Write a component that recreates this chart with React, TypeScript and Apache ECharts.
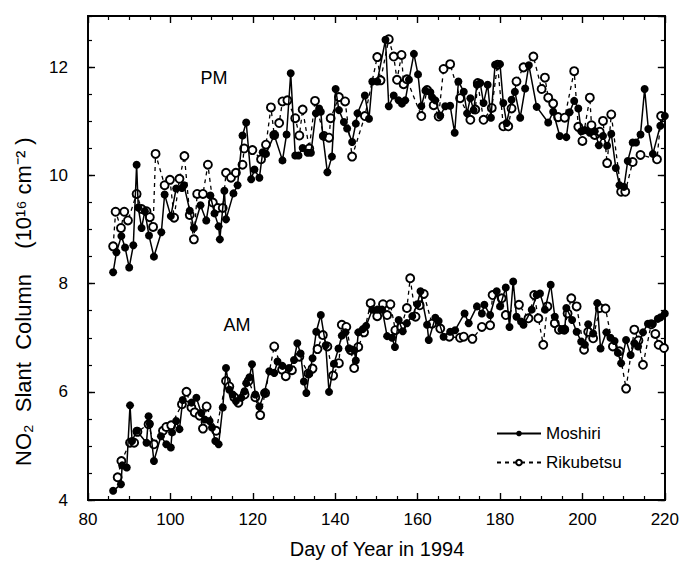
import React, { useEffect, useRef } from "react";
import * as echarts from "echarts";

// Day of year, NO2 slant column (1e16 cm^-2)
const moshiriPM: [number, number][] = [
  [86.1, 8.21], [86.9, 8.58], [88.1, 8.88], [89.0, 8.67], [90.0, 8.3], [91.0, 8.71], [91.8, 10.2], [92.2, 9.41],
  [93.0, 9.03], [93.8, 9.34], [94.8, 8.89], [96.0, 8.5], [97.8, 8.95], [98.6, 9.65], [100.1, 9.25], [101.4, 9.76],
  [102.8, 9.77], [103.3, 9.82], [104.7, 9.35], [105.7, 9.03], [107.3, 9.45], [108.7, 9.17], [109.7, 9.63], [110.7, 9.3],
  [111.7, 9.06], [112.0, 8.82], [113.1, 9.72], [113.5, 9.19], [115.3, 9.67], [116.3, 9.82], [117.5, 10.74], [118.4, 10.98],
  [119.6, 9.93], [120.4, 10.11], [121.6, 9.96], [122.4, 10.43], [123.2, 10.4], [125.2, 10.75], [127.2, 10.28], [128.2, 10.76],
  [129.2, 11.89], [130.3, 10.37], [131.1, 10.37], [132.1, 10.51], [133.3, 10.42], [134.1, 10.42], [135.3, 11.15], [136.1, 11.24],
  [136.5, 11.18], [137.0, 10.73], [138.1, 10.06], [139.2, 10.35], [140.1, 11.6], [140.9, 11.21], [142.1, 10.99], [142.9, 10.87],
  [144.1, 10.62], [145.0, 10.96], [145.4, 11.15], [147.2, 11.48], [148.2, 11.05], [149.0, 11.74], [150.2, 11.74], [152.2, 12.51],
  [153.0, 11.28], [154.2, 11.48], [155.4, 11.39], [156.2, 11.33], [157.0, 11.39], [157.9, 11.77], [159.1, 12.25], [160.1, 11.87],
  [160.9, 11.28], [161.9, 11.57], [163.1, 11.54], [163.5, 11.45], [164.3, 11.39], [165.5, 11.11], [166.7, 11.28], [167.9, 11.29],
  [169.0, 10.79], [169.9, 11.74], [171.2, 11.55], [172.0, 11.15], [172.8, 11.43], [173.6, 11.21], [174.4, 11.68], [175.2, 11.71],
  [176.0, 11.34], [177.0, 11.68], [177.8, 11.07], [178.8, 12.05], [180.0, 12.06], [180.8, 11.34], [181.6, 10.97], [182.8, 11.4],
  [183.6, 11.55], [184.9, 11.07], [186.1, 11.61], [187.0, 12.04], [188.9, 11.27], [191.7, 10.98], [192.9, 11.18], [194.5, 10.73],
  [196.1, 10.71], [196.9, 11.17], [198.0, 11.38], [199.0, 11.24], [199.7, 10.82], [200.6, 10.84], [201.8, 10.79], [203.0, 10.82],
  [204.0, 10.56], [205.0, 10.73], [206.0, 10.55], [207.0, 10.77], [208.1, 10.14], [209.0, 9.82], [210.1, 9.79], [211.0, 10.27],
  [212.2, 10.61], [213.0, 10.61], [214.1, 10.76], [215.1, 11.6], [216.0, 10.86], [217.1, 10.4], [218.9, 10.92], [220.0, 11.1],
];

const rikubetsuPM: [number, number][] = [
  [86.1, 8.69], [86.7, 9.33], [88.0, 9.03], [88.8, 9.33], [89.7, 9.17], [91.8, 9.66], [93.0, 9.38], [94.2, 9.34],
  [95.0, 9.23], [95.8, 9.05], [96.4, 10.4], [98.6, 9.82], [99.9, 9.92], [100.9, 9.22], [102.2, 9.94], [103.4, 10.36],
  [104.7, 9.27], [105.7, 8.82], [106.5, 9.66], [107.9, 9.66], [109.1, 10.2], [110.3, 9.5], [111.5, 9.4], [112.7, 9.4],
  [113.5, 10.05], [114.7, 9.96], [115.9, 10.05], [117.5, 10.2], [117.9, 10.5], [119.9, 10.47], [122.0, 10.3], [123.2, 10.57],
  [124.4, 11.26], [125.2, 10.75], [126.4, 10.97], [127.2, 11.37], [128.4, 11.39], [130.3, 11.06], [131.3, 10.74], [132.1, 11.22],
  [133.7, 10.5], [135.1, 11.38], [137.3, 10.73], [138.5, 10.7], [138.9, 11.06], [140.9, 11.45], [142.4, 11.37], [144.1, 10.35],
  [147.2, 11.1], [150.2, 12.19], [151.0, 11.76], [153.0, 12.52], [154.2, 12.2], [155.0, 11.77], [156.1, 12.23], [156.6, 11.69],
  [157.4, 11.78], [160.9, 11.1], [162.3, 11.58], [163.9, 11.3], [165.1, 11.09], [166.3, 11.97], [167.9, 12.06], [170.3, 11.43],
  [172.8, 11.03], [174.0, 11.22], [174.6, 11.71], [176.0, 11.03], [178.0, 11.25], [179.4, 12.05], [180.8, 10.91], [182.0, 10.91],
  [182.8, 11.24], [184.0, 11.74], [185.7, 12.0], [188.1, 12.2], [190.1, 11.6], [190.9, 11.81], [191.7, 11.44], [192.9, 11.33],
  [194.1, 11.08], [195.7, 11.07], [198.0, 11.93], [199.0, 10.9], [200.0, 10.64], [201.8, 11.44], [202.2, 10.93], [203.0, 10.75],
  [204.2, 10.81], [205.0, 11.01], [206.0, 10.23], [207.0, 11.13], [209.4, 9.7], [210.4, 9.7], [212.2, 10.25], [214.1, 10.38],
  [218.1, 10.3], [219.1, 11.1],
];

const moshiriAM: [number, number][] = [
  [86.1, 4.17], [88.0, 4.29], [88.3, 4.64], [89.4, 4.6], [90.2, 5.75], [90.7, 5.09], [91.8, 5.28], [94.2, 5.06],
  [94.7, 5.55], [95.0, 5.41], [96.0, 4.72], [97.7, 5.18], [99.0, 5.03], [100.1, 4.97], [100.4, 5.25], [101.4, 5.46],
  [102.2, 5.31], [103.0, 5.85], [105.1, 5.8], [106.3, 5.89], [107.5, 5.61], [108.3, 5.49], [109.5, 5.46], [110.1, 5.34],
  [110.9, 5.09], [111.7, 5.03], [112.7, 5.71], [113.5, 6.44], [114.3, 6.04], [115.1, 5.95], [115.9, 5.83], [117.2, 5.89],
  [118.0, 6.01], [118.4, 6.16], [119.2, 6.27], [119.8, 6.51], [120.6, 5.95], [121.6, 5.73], [122.8, 5.98], [124.0, 6.38],
  [125.2, 6.35], [126.0, 6.56], [127.2, 6.48], [128.8, 6.44], [130.0, 6.59], [130.8, 6.9], [131.6, 6.71], [132.4, 6.19],
  [133.0, 5.98], [133.7, 6.34], [134.5, 6.62], [135.4, 7.11], [136.5, 7.42], [137.7, 6.86], [138.5, 6.0], [139.7, 6.52],
  [140.8, 6.8], [141.6, 7.04], [142.5, 7.1], [143.3, 6.8], [144.6, 6.77], [145.0, 6.58], [145.6, 7.1], [146.7, 7.16],
  [147.5, 7.22], [149.0, 7.52], [150.2, 7.52], [151.4, 7.52], [152.6, 7.03], [153.8, 7.0], [154.5, 6.83], [155.4, 7.33],
  [156.4, 7.12], [157.4, 7.27], [158.7, 7.4], [159.9, 7.62], [160.7, 7.86], [162.3, 7.24], [162.7, 6.96], [164.3, 7.37],
  [165.1, 7.31], [166.3, 7.02], [167.9, 7.11], [169.1, 7.14], [171.4, 7.45], [172.4, 7.27], [174.4, 7.58], [175.6, 7.45],
  [176.2, 7.61], [177.6, 7.42], [179.2, 7.86], [180.0, 7.58], [181.4, 7.93], [182.3, 7.2], [183.2, 8.04], [184.0, 7.39],
  [185.1, 7.3], [185.7, 7.24], [187.7, 7.52], [188.9, 7.79], [189.7, 7.82], [190.9, 7.52], [192.3, 7.98], [193.3, 7.39],
  [194.9, 7.15], [195.7, 7.15], [196.1, 7.55], [197.5, 7.33], [198.6, 7.11], [199.7, 6.93], [200.6, 6.87], [201.4, 7.25],
  [202.6, 7.08], [203.6, 7.64], [204.4, 6.8], [205.8, 7.1], [206.8, 7.0], [207.8, 6.94], [208.6, 6.72], [209.4, 6.53],
  [210.6, 6.96], [211.7, 6.68], [212.6, 6.9], [213.5, 6.84], [214.7, 7.1], [215.9, 7.26], [217.1, 7.26], [218.3, 7.35],
  [219.0, 7.38], [220.0, 7.45],
];

const rikubetsuAM: [number, number][] = [
  [87.2, 4.42], [88.1, 4.72], [90.2, 5.06], [91.2, 5.06], [92.0, 5.26], [94.7, 5.4], [96.0, 5.03], [98.2, 5.28],
  [99.0, 5.35], [100.2, 5.38], [102.8, 5.77], [103.9, 6.0], [105.1, 5.71], [105.9, 5.62], [107.1, 5.56], [107.9, 5.32],
  [108.8, 5.73], [111.1, 5.28], [113.5, 6.2], [114.3, 6.1], [115.5, 5.9], [116.5, 5.8], [118.0, 5.95], [119.0, 6.2],
  [120.6, 5.9], [121.8, 5.57], [123.0, 5.98], [125.2, 6.84], [127.1, 6.41], [128.0, 6.29], [129.5, 6.4], [131.3, 6.65],
  [133.5, 6.34], [134.5, 6.43], [135.7, 6.79], [137.0, 7.05], [138.1, 6.84], [139.5, 6.3], [140.9, 6.53], [141.6, 7.24],
  [142.7, 7.2], [143.8, 6.77], [144.6, 6.44], [145.6, 6.83], [147.0, 7.1], [148.6, 7.64], [150.2, 7.4], [151.6, 7.62],
  [152.6, 7.42], [153.4, 7.62], [154.6, 7.14], [156.0, 7.2], [157.4, 7.55], [158.2, 8.1], [159.5, 7.39], [160.5, 7.6],
  [161.5, 7.81], [163.5, 7.26], [165.5, 7.17], [167.7, 7.02], [170.3, 7.0], [171.2, 7.02], [173.3, 6.98], [175.6, 7.2],
  [177.6, 7.23], [178.2, 7.79], [180.4, 7.73], [181.4, 7.42], [184.6, 7.61], [186.9, 7.36], [188.3, 7.79], [189.3, 7.36],
  [190.5, 6.87], [191.5, 7.58], [193.3, 7.27], [194.3, 7.15], [195.6, 7.15], [196.4, 7.45], [197.3, 7.73], [198.6, 7.58],
  [200.4, 6.78], [201.4, 7.11], [202.6, 6.99], [204.2, 7.55], [205.6, 7.54], [207.4, 6.84], [209.0, 6.75], [210.6, 6.06],
  [212.6, 7.15], [213.6, 6.95], [214.7, 6.5], [216.7, 7.25], [217.7, 7.07], [218.5, 6.87], [219.8, 6.81],
];

const xRange = { min: 80, max: 220, major: 20, minorSplit: 4 };
const yRange = { min: 4, max: 12.95, major: 2, minor: 0.5 };
const seriesNames = ["Moshiri", "Rikubetsu"];
const panelLabels = ["PM", "AM"];
const xTitle = "Day of Year in 1994";
const yTitleMain = "NO\u2082  Slant  Column";
const yTitleUnit = "(10\u00b9\u2076 cm\u207b\u00b2 )";

const FONT = "'Liberation Sans', Arial, Helvetica, sans-serif";

export default function App() {
  const ref = useRef<HTMLDivElement>(null);
  useEffect(() => {
    if (!ref.current) return;
    const chart = echarts.init(ref.current, undefined, { renderer: "svg" });
    const line = { show: true, onZero: false, lineStyle: { color: "#000", width: 1.8 } };
    const majorTick = { show: true, inside: true, length: 7, lineStyle: { color: "#000", width: 1.4 } };
    const minorTickY = { show: true, inside: true, length: 4, lineStyle: { color: "#000", width: 1.2 } };
    const yBase = (position: string, interval: number, tick: any, labels: boolean) => ({
      type: "value",
      position,
      min: yRange.min,
      max: yRange.max,
      interval,
      axisLine: line,
      axisTick: tick,
      splitLine: { show: false },
      axisLabel: labels
        ? { show: true, showMaxLabel: false, color: "#000", fontSize: 17, fontFamily: FONT, margin: 20 }
        : { show: false },
    });
    const xBase = (position: string, labels: boolean) => ({
      type: "value",
      position,
      min: xRange.min,
      max: xRange.max,
      interval: xRange.major,
      axisLine: line,
      axisTick: majorTick,
      minorTick: { show: true, splitNumber: xRange.minorSplit, length: 4, lineStyle: { color: "#000", width: 1.2 } },
      splitLine: { show: false },
      minorSplitLine: { show: false },
      axisLabel: labels
        ? { show: true, color: "#000", fontSize: 17, fontFamily: FONT, margin: 11 }
        : { show: false },
    });
    const moshiri = (data: [number, number][]) => ({
      name: seriesNames[0],
      type: "line",
      data,
      xAxisIndex: 0,
      yAxisIndex: 0,
      symbol: "circle",
      symbolSize: 8,
      showSymbol: true,
      showAllSymbol: true,
      lineStyle: { color: "#000", width: 1.5 },
      itemStyle: { color: "#000", borderColor: "#000", borderWidth: 0 },
      z: 3,
    });
    const rikubetsu = (data: [number, number][]) => ({
      name: seriesNames[1],
      type: "line",
      data,
      xAxisIndex: 0,
      yAxisIndex: 0,
      symbol: "circle",
      symbolSize: 8,
      showSymbol: true,
      showAllSymbol: true,
      lineStyle: { color: "#000", width: 1.3, type: [4, 4] },
      itemStyle: { color: "#fff", borderColor: "#000", borderWidth: 1.9 },
      z: 2,
    });
    const txt = (x: number, y: number, text: string, size: number, rotation = 0) => ({
      type: "text",
      x,
      y,
      rotation,
      style: {
        text,
        font: `${size}px ${FONT}`,
        fill: "#000",
        align: "center",
        verticalAlign: "middle",
        textAlign: "center",
        textVerticalAlign: "middle",
      },
    });
    chart.setOption({
      animation: false,
      backgroundColor: "#fff",
      grid: { left: 88, right: 15, top: 16, bottom: 63, containLabel: false },
      xAxis: [xBase("bottom", true), xBase("top", false)],
      yAxis: [
        yBase("left", yRange.major, majorTick, true),
        yBase("left", yRange.minor, minorTickY, false),
        yBase("right", yRange.major, majorTick, false),
        yBase("right", yRange.minor, minorTickY, false),
      ],
      legend: {
        data: seriesNames,
        orient: "vertical",
        left: 491,
        top: 420,
        itemWidth: 44,
        itemHeight: 7,
        itemGap: 12,
        textStyle: { color: "#000", fontSize: 17, fontFamily: FONT, lineHeight: 17 },
      },
      series: [moshiri(moshiriPM), rikubetsu(rikubetsuPM), moshiri(moshiriAM), rikubetsu(rikubetsuAM)],
      graphic: [
        txt(214, 78, panelLabels[0], 18),
        txt(237, 325, panelLabels[1], 18),
        txt(377, 549, xTitle, 20),
        txt(23, 370, yTitleMain, 22, Math.PI / 2),
        txt(23, 193, yTitleUnit, 22, Math.PI / 2),
      ],
    });
    return () => chart.dispose();
  }, []);
  return (
    <div
      ref={ref}
      style={{ position: "fixed", left: 0, top: 0, width: 682, height: 563, background: "#fff" }}
    />
  );
}
